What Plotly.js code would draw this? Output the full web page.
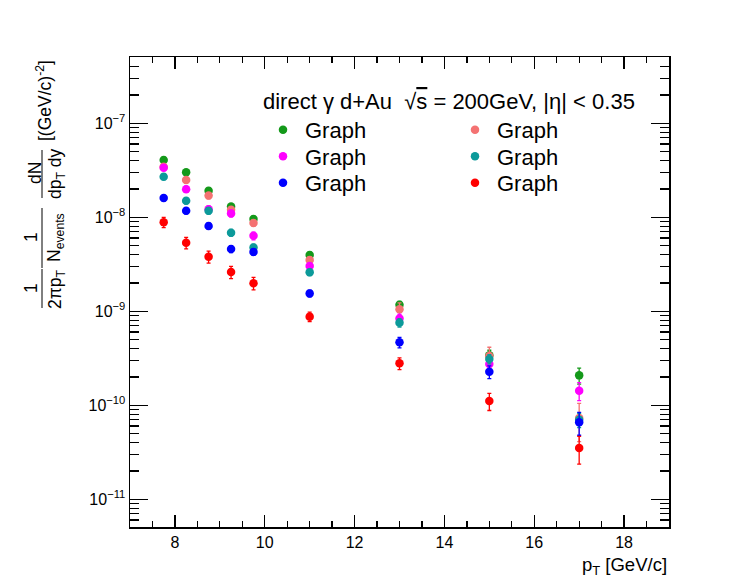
<!DOCTYPE html>
<html>
<head>
<meta charset="utf-8">
<script src="https://cdn.plot.ly/plotly-3.0.1.min.js"></script>
<style>
  html, body { margin: 0; padding: 0; background: #fff; }
  #plot { width: 729px; height: 583px; }
</style>
</head>
<body>
<div id="plot"></div>
<script>
// Direct photon invariant yield in d+Au at sqrt(s_NN) = 200 GeV, |eta| < 0.35
const ptBins = [7.75, 8.25, 8.75, 9.25, 9.75, 11, 13, 15, 17];

const yieldGreen   = [4.07e-8, 3.01e-8, 1.92e-8, 1.30e-8, 9.6e-9, 3.97e-9, 1.17e-9, 3.4e-10, 2.08e-10];
const errGreen     = [2.8e-9, 2.1e-9, 1.4e-9, 1.0e-9, 7.5e-10, 3.0e-10, 1.0e-10, 4.5e-11, 4.0e-11];

const yieldSalmon  = [3.45e-8, 2.49e-8, 1.70e-8, 1.20e-8, 8.7e-9, 3.52e-9, 1.05e-9, 3.34e-10, 7.3e-11];
const errSalmon    = [2.5e-9, 1.8e-9, 1.3e-9, 9.0e-10, 7.0e-10, 2.8e-10, 1.8e-10, 8.0e-11, 3.2e-11];

const yieldMagenta = [3.37e-8, 1.99e-8, 1.22e-8, 1.10e-8, 6.35e-9, 3.03e-9, 8.4e-10, 2.75e-10, 1.43e-10];
const errMagenta   = [2.4e-9, 1.5e-9, 1.0e-9, 9.0e-10, 6.0e-10, 2.5e-10, 9.0e-11, 4.0e-11, 3.1e-11];

const yieldTeal    = [2.70e-8, 1.50e-8, 1.17e-8, 6.86e-9, 4.77e-9, 2.60e-9, 7.57e-10, 3.11e-10, 7.0e-11];
const errTeal      = [1.9e-9, 1.1e-9, 9.0e-10, 5.5e-10, 4.0e-10, 2.0e-10, 8.0e-11, 3.5e-11, 1.2e-11];

const yieldBlue    = [1.60e-8, 1.17e-8, 8.07e-9, 4.60e-9, 4.28e-9, 1.55e-9, 4.68e-10, 2.27e-10, 6.6e-11];
const errBlue      = [1.1e-9, 8.5e-10, 6.0e-10, 4.0e-10, 3.5e-10, 1.3e-10, 6.0e-11, 3.5e-11, 1.8e-11];

const yieldRed     = [8.85e-9, 5.37e-9, 3.81e-9, 2.62e-9, 1.99e-9, 8.77e-10, 2.80e-10, 1.11e-10, 3.52e-11];
const errRed       = [1.1e-9, 7.5e-10, 5.5e-10, 3.9e-10, 3.0e-10, 1.0e-10, 4.0e-11, 2.3e-11, 1.15e-11];

const seriesNames = ['Graph', 'Graph', 'Graph', 'Graph', 'Graph', 'Graph'];

// decade ticks on the y axis
const yTickVals = [1e-11, 1e-10, 1e-9, 1e-8, 1e-7];
const yTickText = ['10<sup>−11</sup>', '10<sup>−10</sup>', '10<sup>−9</sup>', '10<sup>−8</sup>', '10<sup>−7</sup>'];

const FONT = 'Liberation Sans, Arial, Helvetica, sans-serif';

// plot frame in pixels
const M = { l: 130, r: 60, t: 57, b: 56 };
const W = 729, H = 583;
const PW = W - M.l - M.r, PH = H - M.t - M.b;
const px = x => (x - M.l) / PW;
const py = y => 1 - (y - M.t) / PH;

function makeTrace(y, err, color, name, legend) {
  return {
    type: 'scatter', mode: 'markers',
    x: ptBins, y: y, name: name, legend: legend,
    marker: { symbol: 'circle', size: 8.5, color: color },
    error_y: { type: 'data', array: err, visible: true, color: color, thickness: 1.3, width: 2 },
    cliponaxis: false
  };
}

// two legend columns filled row by row
const traces = [
  makeTrace(yieldGreen,   errGreen,   '#14991a', seriesNames[0], 'legend'),
  makeTrace(yieldSalmon,  errSalmon,  '#f47272', seriesNames[1], 'legend2'),
  makeTrace(yieldMagenta, errMagenta, '#ff00ff', seriesNames[2], 'legend3'),
  makeTrace(yieldTeal,    errTeal,    '#0c9a9a', seriesNames[3], 'legend4'),
  makeTrace(yieldBlue,    errBlue,    '#0000ff', seriesNames[4], 'legend5'),
  makeTrace(yieldRed,     errRed,     '#ff0000', seriesNames[5], 'legend6')
];

// minor ticks 2..9 in each decade
const minorY = [];
for (let e = -12; e <= -6; e++) {
  for (let m = 2; m <= 9; m++) minorY.push(m * Math.pow(10, e));
}

const TITLE_SIZE = 17.5;

function rotText(text, x, y) {
  return {
    text: text, xref: 'paper', yref: 'paper', x: px(x), y: py(y),
    xanchor: 'center', yanchor: 'middle', textangle: -90, showarrow: false,
    font: { family: FONT, size: TITLE_SIZE, color: '#000' }
  };
}
function fracLine(x, y0, y1) {
  return {
    type: 'line', xref: 'paper', yref: 'paper',
    x0: px(x), x1: px(x), y0: py(y0), y1: py(y1),
    line: { color: '#000', width: 1 }
  };
}

const LEG_SIZE = 22;

const annotations = [
  rotText('1', 31, 288),
  rotText('2πp<sub>T</sub>', 56, 289),
  rotText('1', 31, 237),
  rotText('N<sub>events</sub>', 56, 238),
  rotText('dN', 35, 173),
  rotText('dp<sub>T</sub> dy', 56, 174),
  rotText('[(GeV/c)<sup>-2</sup>]', 44, 101),
  {
    text: 'p<sub>T</sub> [GeV/c]', xref: 'paper', yref: 'paper',
    x: 1, y: py(566), xanchor: 'right', yanchor: 'middle', showarrow: false,
    font: { family: FONT, size: 18.5, color: '#000' }
  },
  {
    text: 'direct γ d+Au  √<span style="text-decoration:overline">s</span> = 200GeV, |η| &lt; 0.35',
    xref: 'paper', yref: 'paper', x: px(261), y: py(102),
    xanchor: 'left', yanchor: 'middle', showarrow: false,
    font: { family: FONT, size: LEG_SIZE, color: '#000' }
  }
];

const shapes = [
  fracLine(42, 269, 308),
  fracLine(42, 208, 268),
  fracLine(42, 150, 198)
];

function legendAt(x, y) {
  return {
    x: px(x), y: py(y), xanchor: 'left', yanchor: 'middle',
    bgcolor: 'rgba(0,0,0,0)', borderwidth: 0, itemwidth: 34,
    font: { family: FONT, size: LEG_SIZE, color: '#000' }
  };
}

const axisFont = { family: FONT, size: 16, color: '#000' };

const layout = {
  width: W, height: H,
  margin: M,
  paper_bgcolor: '#fff', plot_bgcolor: '#fff',
  showlegend: true,
  xaxis: {
    range: [7, 19], tick0: 0, dtick: 2,
    ticks: 'inside', ticklen: 12, tickwidth: 1.3, tickcolor: '#000',
    minor: { ticks: 'inside', dtick: 0.5, ticklen: 6, tickwidth: 1.3, tickcolor: '#000', showgrid: false },
    showline: true, linecolor: '#000', linewidth: 1.5, mirror: 'ticks',
    showgrid: false, zeroline: false,
    tickfont: axisFont
  },
  yaxis: {
    type: 'log', range: [-11.295, -6.295],
    tickmode: 'array', tickvals: yTickVals, ticktext: yTickText,
    ticks: 'inside', ticklen: 18, tickwidth: 1.3, tickcolor: '#000',
    minor: { ticks: 'inside', tickmode: 'array', tickvals: minorY, ticklen: 9, tickwidth: 1.3, tickcolor: '#000', showgrid: false },
    showline: true, linecolor: '#000', linewidth: 1.5, mirror: 'ticks',
    showgrid: false, zeroline: false,
    tickfont: axisFont
  },
  legend:  legendAt(261, 130),
  legend2: legendAt(453, 130),
  legend3: legendAt(261, 156.5),
  legend4: legendAt(453, 156.5),
  legend5: legendAt(261, 183),
  legend6: legendAt(453, 183),
  annotations: annotations,
  shapes: shapes
};

Plotly.newPlot('plot', traces, layout, { displayModeBar: false, staticPlot: true });
</script>
</body>
</html>
